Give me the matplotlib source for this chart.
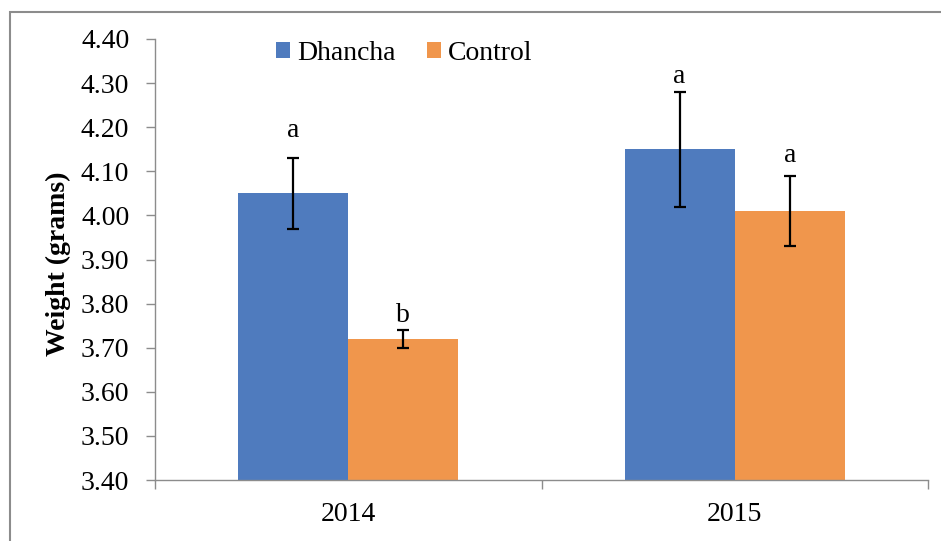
import numpy as np
import matplotlib.pyplot as plt
from matplotlib.patches import Rectangle

# data
years = ['2014', '2015']
dhancha = [4.05, 4.15]
dhancha_err = [0.08, 0.13]
control = [3.72, 4.01]
control_err = [0.02, 0.08]
dhancha_letters = ['a', 'a']
control_letters = ['b', 'a']
dhancha_letter_y = [4.178, 4.30]
control_letter_y = [3.758, 4.121]

plt.rcParams['font.family'] = ['Liberation Serif', 'DejaVu Serif']

fig = plt.figure(figsize=(9.41, 5.41), dpi=100)
ax = fig.add_axes([155/941, 1 - 480/541, (928 - 155)/941, (480 - 39)/541])

# outer chart frame (right and bottom edges cut off in the original)
fig.patches.append(Rectangle((10/941, -0.05), 1.2, 1 - 12/541 + 0.05,
                             transform=fig.transFigure, fill=False,
                             edgecolor='#8c8c8c', lw=1.5))

x = np.arange(len(years))
w = 0.285
blue = '#4F7BBE'
orange = '#F0964C'

ax.bar(x - w/2, dhancha, w, color=blue, label='Dhancha', zorder=2)
ax.bar(x + w/2, control, w, color=orange, label='Control', zorder=2)
ax.errorbar(x - w/2, dhancha, yerr=dhancha_err, fmt='none', ecolor='black',
            elinewidth=1.6, capsize=4, capthick=1.6, zorder=3)
ax.errorbar(x + w/2, control, yerr=control_err, fmt='none', ecolor='black',
            elinewidth=1.6, capsize=4, capthick=1.6, zorder=3)

for i in range(len(years)):
    ax.text(x[i] - w/2, dhancha_letter_y[i], dhancha_letters[i], ha='center',
            va='baseline', fontsize=20)
    ax.text(x[i] + w/2, control_letter_y[i], control_letters[i], ha='center',
            va='baseline', fontsize=20)

ax.set_xlim(-0.5, 1.5)
ax.set_ylim(3.40, 4.40)
ax.set_yticks(np.arange(3.40, 4.41, 0.10))
ax.set_yticklabels(['%.2f' % v for v in np.arange(3.40, 4.41, 0.10)], fontsize=20)
ax.set_xticks(x)
ax.set_xticklabels(years, fontsize=20)
ax.tick_params(axis='x', length=0, pad=16)
ax.tick_params(axis='y', length=6.5, width=1, color='#8c8c8c', direction='out', pad=12)
ax.set_xticks([-0.5, 0.5, 1.5], minor=True)
ax.tick_params(axis='x', which='minor', length=6.5, width=1, color='#8c8c8c', direction='out')

for s in ['top', 'right']:
    ax.spines[s].set_visible(False)
for s in ['left', 'bottom']:
    ax.spines[s].set_color('#8c8c8c')
    ax.spines[s].set_linewidth(1)

ax.set_ylabel('Weight (grams)', fontsize=20, fontweight='bold')
ax.yaxis.set_label_coords(-0.109, 0.49)

ax.legend(loc='center left', bbox_to_anchor=(0.1565, 0.968), ncol=2, frameon=False,
          fontsize=20, handlelength=0.5, handleheight=0.5, handletextpad=0.25,
          columnspacing=1.15, borderpad=0, borderaxespad=0)

fig.savefig('out.png', dpi=100)
